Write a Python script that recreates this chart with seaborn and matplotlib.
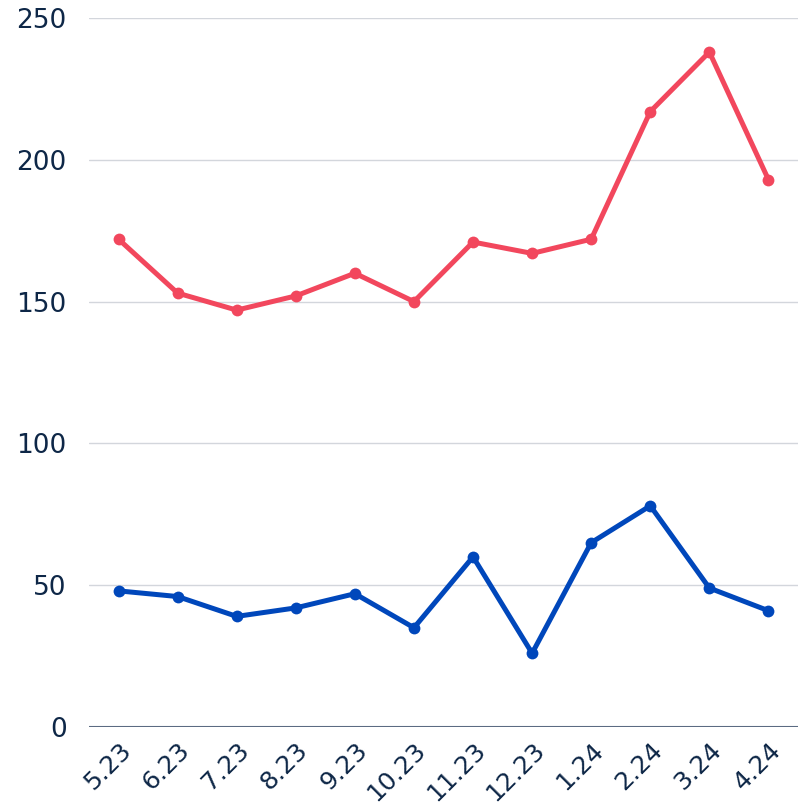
import pandas as pd
import matplotlib.pyplot as plt
import seaborn as sns

months = ['5.23', '6.23', '7.23', '8.23', '9.23', '10.23',
          '11.23', '12.23', '1.24', '2.24', '3.24', '4.24']
red_values = [172, 153, 147, 152, 160, 150, 171, 167, 172, 217, 238, 193]
blue_values = [48, 46, 39, 42, 47, 35, 60, 26, 65, 78, 49, 41]
y_ticks = [0, 50, 100, 150, 200, 250]

text_color = '#0e2747'

sns.set_style('white')
plt.rcParams['font.family'] = ['DejaVu Sans']

df = pd.DataFrame({'month': months, 'red': red_values, 'blue': blue_values})
df['pos'] = range(len(df))

fig = plt.figure(figsize=(8.06, 8.06), dpi=100)
ax = fig.add_axes([89 / 806, 1 - 727 / 806, (798 - 89) / 806, (727 - 18) / 806])

sns.lineplot(data=df, x='pos', y='red', ax=ax, color='#f2475d', linewidth=3.6,
             marker='o', markersize=8.5, markeredgewidth=0, zorder=3)
sns.lineplot(data=df, x='pos', y='blue', ax=ax, color='#0047bb', linewidth=3.6,
             marker='o', markersize=8.5, markeredgewidth=0, zorder=3)

ax.set_xlim(-0.5, len(months) - 0.5)
ax.set_ylim(0, 250)
ax.set_yticks(y_ticks)
ax.set_yticklabels([str(t) for t in y_ticks], fontsize=19, color=text_color)
ax.set_xticks(range(len(months)))
ax.set_xticklabels(months, fontsize=18, color=text_color, rotation=45,
                   ha='right', rotation_mode='anchor')
ax.tick_params(axis='y', length=0, pad=16)
ax.tick_params(axis='x', length=0, pad=8)

ax.grid(axis='y', color='#d3d6dc', linewidth=1)
ax.axhline(0, color='#5b6b82', linewidth=1.5, zorder=2)
ax.set_xlabel('')
ax.set_ylabel('')
sns.despine(ax=ax, left=True, bottom=True)

fig.savefig('out.png', dpi=100)
